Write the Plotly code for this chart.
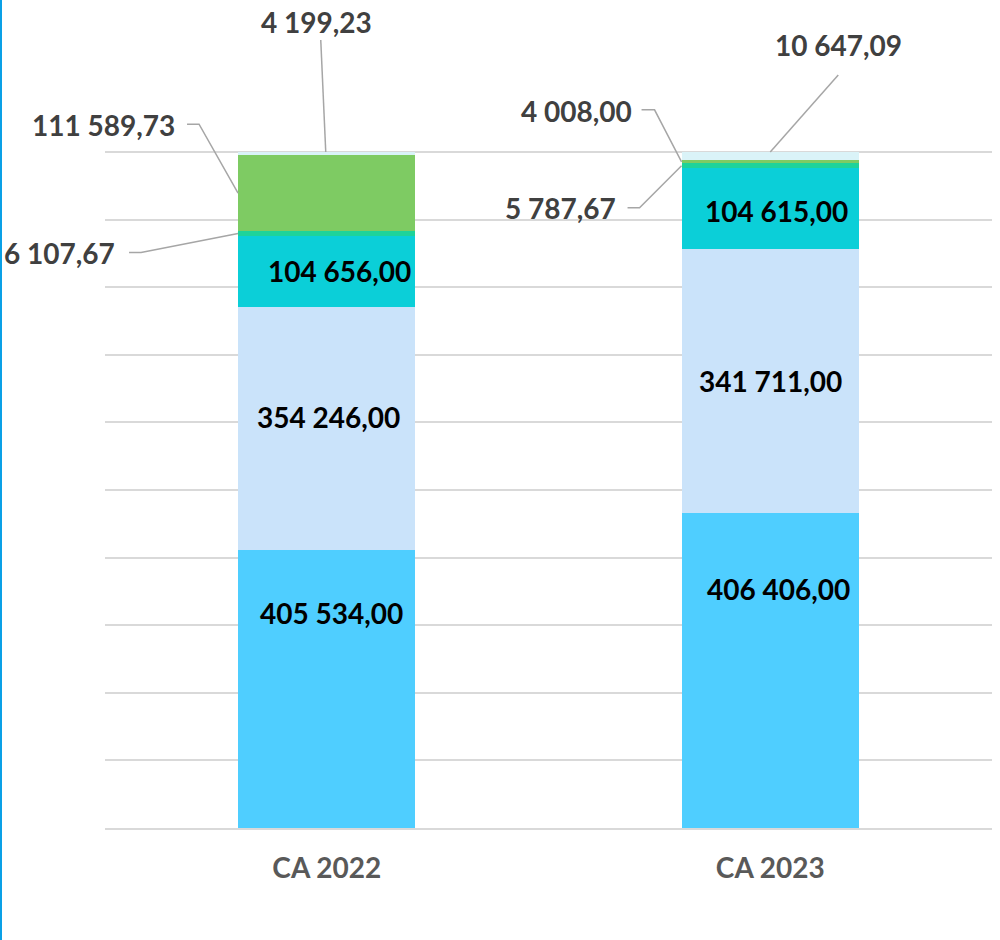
import plotly.graph_objects as go

categories = ["CA 2022", "CA 2023"]
series_names = ["s1", "s2", "s3", "s4", "s5", "s6"]
s1 = [405534.00, 406406.00]
s2 = [354246.00, 341711.00]
s3 = [104656.00, 104615.00]
s4 = [6107.67, 5787.67]
s5 = [111589.73, 4008.00]
s6 = [4199.23, 10647.09]
series = [s1, s2, s3, s4, s5, s6]
grid_ticks = [0, 10, 20, 30, 40, 50, 60, 70, 80, 90, 100]

colors = ["#4FCEFF", "#CAE3FA", "#0BCFD8", "#1ED39A", "#7ECB63", "#DAF3F8"]
FONT = "Lato"
BAR_W = 0.4


def fmt(v):
    s = f"{v:,.2f}"
    return s.replace(",", " ").replace(".", ",")


fig = go.Figure()
for name, vals, col in zip(series_names, series, colors):
    fig.add_trace(go.Bar(x=categories, y=vals, name=name, marker=dict(color=col, line=dict(width=0)),
                         width=BAR_W, hoverinfo="skip"))

# cumulative percentages (for label anchors)
totals = [sum(s[i] for s in series) for i in range(len(categories))]
cum = []
for i in range(len(categories)):
    acc, c = 0.0, []
    for s in series:
        lo = acc
        acc += s[i] / totals[i] * 100
        c.append((lo, min(acc, 100.0)))
    cum.append(c)

annotations = []
shapes = []

# inside labels (series 0..2): pixel nudges as in the reference
inside_shift = {
    (0, 0): (5, 76), (0, 1): (2, 12), (0, 2): (13, 0),
    (1, 0): (8, 82), (1, 1): (0, 0), (1, 2): (6, -3),
}
for (ci, si), (dx, dy) in inside_shift.items():
    lo, hi = cum[ci][si]
    annotations.append(dict(x=ci, y=(lo + hi) / 2, xref="x", yref="y", text=f"<b>{fmt(series[si][ci])}</b>",
                            showarrow=False, xshift=dx, yshift=dy,
                            font=dict(family=FONT, size=28, color="#000000")))

# outside labels with leader lines
outside = [
    (0, 4, "left_mid", (-61, -68), "right", [(-51, -69), (-39, -69), (0, 0)]),
    (0, 3, "left_mid", (-121, 19), "right", [(-109, 19), (-97, 19), (0, 0)]),
    (0, 5, "top_center", (-10, -130), "center", [(-6, -112), (-1, 0)]),
    (1, 4, "left_mid", (-48, -51), "right", [(-40, -52), (-27, -52), (0, 0)]),
    (1, 3, "left_mid", (-64, 42), "right", [(-54, 42), (-42, 42), (0, 0)]),
    (1, 5, "top_center", (68, -107), "center", [(68, -77), (0, 0)]),
]
for ci, si, kind, (tdx, tdy), xa, pts in outside:
    lo, hi = cum[ci][si]
    if kind == "left_mid":
        ax_x = ci - BAR_W / 2
        ax_y = (lo + hi) / 2
    else:
        ax_x = ci
        ax_y = hi
    annotations.append(dict(x=ax_x, y=ax_y, xref="x", yref="y", text=f"<b>{fmt(series[si][ci])}</b>",
                            showarrow=False, xshift=tdx, yshift=-tdy, xanchor=xa, yanchor="middle",
                            font=dict(family=FONT, size=28, color="#404040")))
    path = "M " + " L ".join(f"{px},{-py}" for px, py in pts)
    shapes.append(dict(type="path", xref="x", yref="y", xsizemode="pixel", ysizemode="pixel",
                       xanchor=ax_x, yanchor=ax_y, path=path,
                       line=dict(color="#A6A6A6", width=1.5), layer="above"))

# left blue border of the frame
bx = (1 - 105) / 887
shapes.append(dict(type="line", xref="paper", yref="paper", x0=bx, x1=bx,
                   y0=-0.2, y1=1.2, line=dict(color="#0AA0E6", width=2)))

fig.update_layout(
    barmode="stack", barnorm="percent",
    width=1000, height=940,
    margin=dict(l=105, r=8, t=0, b=112),
    paper_bgcolor="white", plot_bgcolor="white",
    showlegend=False,
    annotations=annotations, shapes=shapes,
    xaxis=dict(range=[-0.5, 1.5], showline=True, linecolor="#D9D9D9", linewidth=2, ticks="",
               tickfont=dict(family=FONT, size=28, color="#595959"), ticklabelstandoff=14,
               tickvals=[0, 1], ticktext=[f"<b>{c}</b>" for c in categories]),
    yaxis=dict(range=[0, 122.5], tickvals=grid_ticks, showgrid=True, gridcolor="#D9D9D9", gridwidth=1.5,
               showticklabels=False, zeroline=False, ticks=""),
)

fig.write_html("out.html", config={"displayModeBar": False},
               post_script="document.body.style.margin='0px';")
